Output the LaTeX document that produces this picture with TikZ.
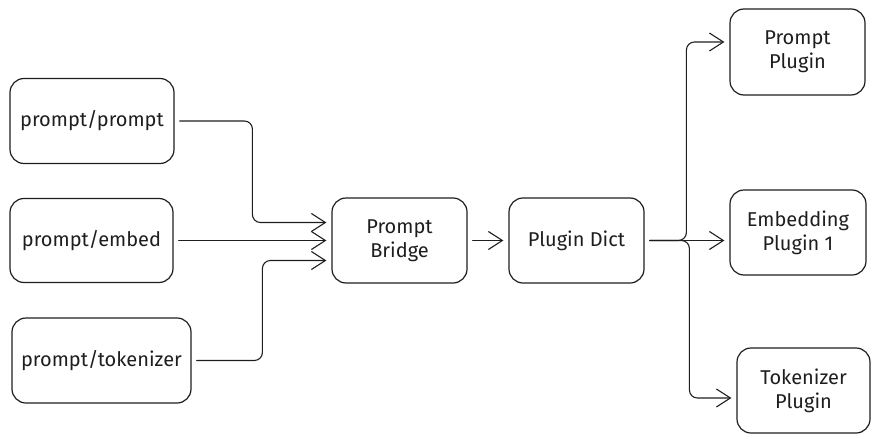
\documentclass[tikz,border=0pt]{standalone}
\usepackage{fontspec}
\setmainfont{Fira Sans}
\usetikzlibrary{arrows.meta}
\definecolor{ink}{HTML}{1E1E1E}
\begin{document}
\begin{tikzpicture}[x=1pt, y=-1pt, line join=round, line cap=round,
	box/.style={draw=ink, line width=1.2pt, rounded corners=14pt, align=center, inner sep=0pt, text=ink, font=\fontsize{20}{24}\selectfont},
	arr/.style={draw=ink, line width=1.1pt, rounded corners=8pt, shorten <=5pt, shorten >=5pt, -{Straight Barb[length=14pt, width=18pt, line width=1.1pt]}}]
	\useasboundingbox (0,0) rectangle (880,444);
	% inputs
	\node[box, minimum width=164pt, minimum height=85pt] (pp) at (92,121) {prompt/prompt};
	\node[box, minimum width=163pt, minimum height=84pt] (pe) at (91.5,240.5) {prompt/embed};
	\node[box, minimum width=179pt, minimum height=85pt] (ptk) at (101.5,360.5) {prompt/tokenizer};
	% middle
	\node[box, minimum width=135pt, minimum height=85pt] (bridge) at (399.5,240.5) {Prompt\\Bridge};
	\node[box, minimum width=135pt, minimum height=85pt] (dict) at (576.5,240.5) {Plugin Dict};
	% plugins
	\node[box, minimum width=135pt, minimum height=86pt] (plp) at (797.5,52) {Prompt\\Plugin};
	\node[box, minimum width=136pt, minimum height=85pt] (ple) at (798,232.5) {Embedding\\Plugin 1};
	\node[box, minimum width=133pt, minimum height=85pt] (plt) at (803.5,390.5) {Tokenizer\\Plugin};
	% connectors
	\draw[arr] (pp.east) -| ([xshift=-79pt,yshift=18pt]bridge.west) -- ([yshift=18pt]bridge.west);
	\draw[arr] (pe.east) -- (pe.east -| bridge.west);
	\draw[arr] (ptk.east) -| ([xshift=-69pt,yshift=-20pt]bridge.west) -- ([yshift=-20pt]bridge.west);
	\draw[arr] (bridge.east) -- (dict.west);
	\draw[arr] (dict.east) -| ([xshift=-43pt,yshift=10pt]plp.west) -- ([yshift=10pt]plp.west);
	\draw[arr] (dict.east) -- (dict.east -| ple.west);
	\draw[arr] (dict.east) -| ([xshift=-47pt,yshift=-7.5pt]plt.west) -- ([yshift=-7.5pt]plt.west);
\end{tikzpicture}
\end{document}
